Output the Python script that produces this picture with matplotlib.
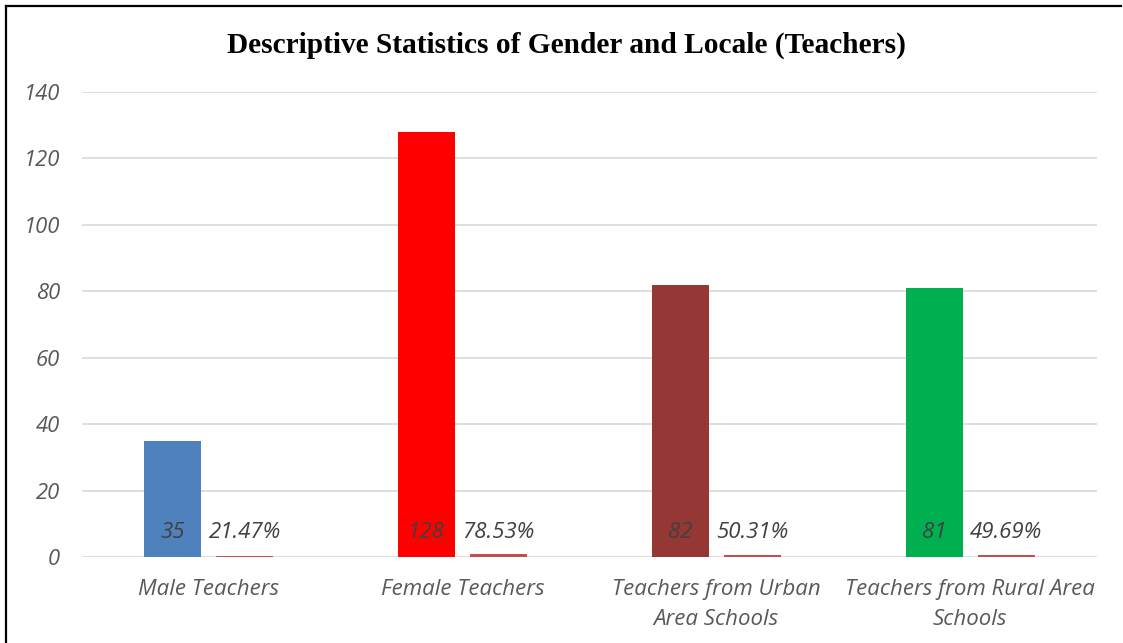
import matplotlib
matplotlib.use("Agg")
import matplotlib.pyplot as plt
from matplotlib.lines import Line2D
import numpy as np

categories = ["Male Teachers", "Female Teachers",
              "Teachers from Urban\nArea Schools", "Teachers from Rural Area\nSchools"]
counts = [35, 128, 82, 81]
percents = [0.2147, 0.7853, 0.5031, 0.4969]
count_colors = ["#4F81BD", "#FF0000", "#953735", "#00B050"]
percent_color = "#C0504D"
y_ticks = [0, 20, 40, 60, 80, 100, 120, 140]
title = "Descriptive Statistics of Gender and Locale (Teachers)"

W, H = 1123, 643
fig = plt.figure(figsize=(W / 100, H / 100), dpi=100)
fig.patch.set_facecolor("white")

# outer frame: top and left edges of the chart area
frame = dict(transform=fig.transFigure, color="black", linewidth=1.6, zorder=10)
fig.add_artist(Line2D([5.5 / W, 1121 / W], [1 - 5.5 / H, 1 - 5.5 / H], **frame))
fig.add_artist(Line2D([5.5 / W, 5.5 / W], [0, 1 - 5.5 / H], **frame))

ax = fig.add_axes([82 / W, 86 / H, (1097 - 82) / W, (557 - 92) / H])
x = np.arange(len(categories))
bw = 0.225
off = 0.142

ax.bar(x - off, counts, width=bw, color=count_colors, zorder=3)
ax.bar(x + off, percents, width=bw, color=percent_color, zorder=3)

FONT = "Open Sans"
lab_font = dict(family=FONT, style="italic", size=16, color="#404040")
for xi, c, p in zip(x, counts, percents):
    ax.annotate(f"{c}", (xi - off, 0), xytext=(0, 25), textcoords="offset pixels",
                ha="center", va="center", zorder=4, **lab_font)
    ax.annotate(f"{p * 100:.2f}%", (xi + off, 0), xytext=(0, 25), textcoords="offset pixels",
                ha="center", va="center", zorder=4, **lab_font)

ax.set_xlim(-0.5, len(categories) - 0.5)
ax.set_ylim(0, 140)
ax.set_yticks(y_ticks)
ax.set_xticks(x)
ax.set_xticklabels(categories, family=FONT, style="italic", size=16,
                   color="#595959", linespacing=1.55)
ax.set_yticklabels([str(t) for t in y_ticks], family=FONT, style="italic",
                   size=15.8, color="#595959")
ax.tick_params(axis="both", length=0)
ax.tick_params(axis="y", pad=16)
ax.tick_params(axis="x", pad=16)
ax.grid(axis="y", color="#D9D9D9", linewidth=1.2, zorder=0)
for s in ax.spines.values():
    s.set_visible(False)

fig.text(566 / W, 1 - 45 / H, title, ha="center", va="center",
         family="Liberation Serif", weight="bold", size=21.2, color="black")

fig.savefig("out.png", dpi=100, facecolor="white")
